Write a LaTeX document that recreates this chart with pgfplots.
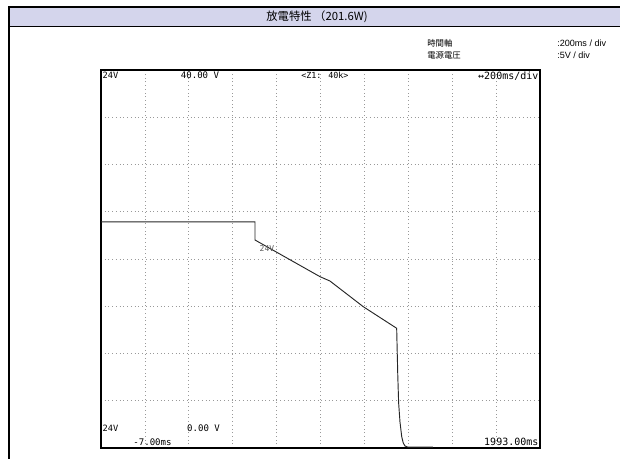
\documentclass[border=0pt]{standalone}
\usepackage{fontspec}
\setmainfont{Liberation Sans}
\newfontfamily\cjk{Noto Sans CJK JP}
\newfontfamily\scopefont{DejaVu Sans Mono}
\usepackage{pgfplots}
\pgfplotsset{compat=1.18}
\definecolor{barcol}{RGB}{212,213,236}
\begin{document}
\begin{tikzpicture}
\path[use as bounding box] (0,0) rectangle (465pt,344.25pt);
% title bar
\fill[barcol] (7.5pt,324.5pt) rectangle (465pt,339pt);
\draw[line width=1.1pt] (7.5pt,324.5pt) -- (465pt,324.5pt);
\draw[line width=1.9pt] (6.75pt,0pt) -- (6.75pt,339pt) -- (465pt,339pt);
\node[font=\cjk\fontsize{8.5}{10}\selectfont] at (237.75pt,331.5pt) {放電特性 （201.6W)};
\node[font=\cjk\fontsize{6.3}{7}\selectfont, anchor=west, inner sep=0pt] at (320.25pt,311.5pt) {時間軸};
\node[font=\cjk\fontsize{6.3}{7}\selectfont, anchor=west, inner sep=0pt] at (320.25pt,303pt) {電源電圧};
\node[font=\fontsize{6.8}{7}\selectfont, anchor=west, inner sep=0pt] at (417.75pt,311.5pt) {:200ms / div};
\node[font=\fontsize{6.8}{7}\selectfont, anchor=west, inner sep=0pt] at (417.75pt,303pt) {:5V / div};
\begin{axis}[
  at={(75.75pt,8.25pt)}, anchor=south west,
  width=329.25pt, height=283.5pt, scale only axis,
  xmin=-7, xmax=1993, ymin=0, ymax=40,
  xtick={193,393,...,1793}, ytick={5,10,...,35},
  xticklabels={}, yticklabels={},
  major tick length=0pt,
  grid=major,
  grid style={gray!80, line width=0.6pt, dash pattern=on 0.6pt off 2.2pt},
  axis line style={line width=0.9pt, black},
  clip=false,
]
\addplot[black!85, line width=0.7pt] coordinates {
(-7,23.92) (694.6,23.92) (694.6,22.01) (990.7,18.13) (1036,17.67)
(1188,14.95) (1340,12.67) (1345,7.72) (1349,4.76) (1355,2.78)
(1363,1.20) (1370,0.53) (1378,0.21) (1390,0.1) (1505,0.1)
};
\node[font=\scopefont\fontsize{6}{6}\selectfont, gray!70!black, inner sep=0pt] at (axis cs:749,21.06) {24V};
\node[font=\scopefont\fontsize{6.5}{7}\selectfont, anchor=north west, inner sep=1pt] at (rel axis cs:0,1) {24V};
\node[font=\scopefont\fontsize{6.8}{7}\selectfont, anchor=north, inner sep=1.2pt] at (rel axis cs:0.2255,1) {40.00 V};
\node[font=\scopefont\fontsize{6.3}{7}\selectfont, anchor=north, inner sep=1.2pt] at (rel axis cs:0.510,1) {<Z1: 40k>};
\node[font=\scopefont\fontsize{7.5}{8}\selectfont, anchor=north east, inner sep=1pt] at (rel axis cs:1,1) {↔200ms/div};
\node[font=\scopefont\fontsize{6.5}{7}\selectfont, anchor=west, inner sep=1pt] at (rel axis cs:0,0.0529) {24V};
\node[font=\scopefont\fontsize{6.8}{7}\selectfont, inner sep=0pt] at (rel axis cs:0.2335,0.0529) {0.00 V};
\node[font=\scopefont\fontsize{6.8}{7}\selectfont, inner sep=0pt] at (rel axis cs:0.1173,0.0159) {-7.00ms};
\node[font=\scopefont\fontsize{7.5}{8}\selectfont, anchor=east, inner sep=1pt] at (rel axis cs:1,0.0159) {1993.00ms};
\end{axis}
\end{tikzpicture}
\end{document}
